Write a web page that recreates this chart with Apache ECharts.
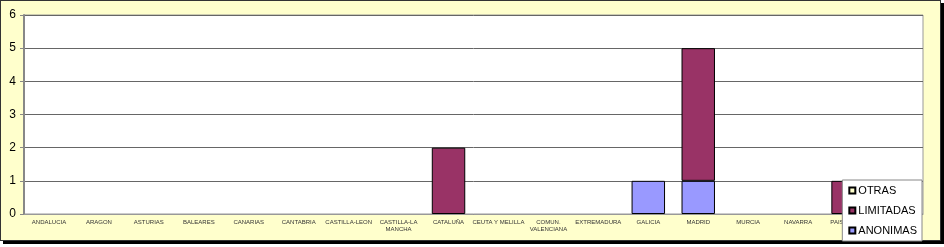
<!DOCTYPE html>
<html><head><meta charset="utf-8">
<script src="https://cdn.jsdelivr.net/npm/echarts@6/dist/echarts.min.js"></script>
<style>
html,body{margin:0;padding:0;background:#fff;}
#frame{position:absolute;left:0;top:0;width:939px;height:239px;background:#FFFFCC;border:1px solid #333;box-shadow:3px 3px 0 #000;}
#c{position:absolute;left:0;top:0;width:944px;height:247px;}
</style></head>
<body>
<div id="frame"></div>
<div id="c"></div>
<script>
var categories = ['ANDALUCIA','ARAGON','ASTURIAS','BALEARES','CANARIAS','CANTABRIA','CASTILLA-LEON','CASTILLA-LA\nMANCHA','CATALUÑA','CEUTA Y MELILLA','COMUN.\nVALENCIANA','EXTREMADURA','GALICIA','MADRID','MURCIA','NAVARRA','PAIS VASCO','LA RIOJA'];
var anonimas  = [0,0,0,0,0,0,0,0,0,0,0,0,1,1,0,0,0,0];
var limitadas = [0,0,0,0,0,0,0,0,2,0,0,0,0,4,0,0,1,0];
var otras     = [0,0,0,0,0,0,0,0,0,0,0,0,0,0,0,0,0,0];
var yTicks = [0,1,2,3,4,5,6];

function nz(a){return a.map(function(v){return v===0?null:v;});}
var chart = echarts.init(document.getElementById('c'), null, {renderer:'canvas'});
chart.setOption({
  animation:false,
  backgroundColor:'transparent',
  grid:{left:24,top:15,right:21,bottom:33,show:true,backgroundColor:'#fff',borderColor:'#999',borderWidth:1},
  legend:{
    orient:'vertical', right:22, bottom:6,
    backgroundColor:'#fff', borderColor:'#888', borderWidth:1,
    padding:[5,5,5,6], itemGap:9, itemWidth:6, itemHeight:6,
    icon:'rect',
    textStyle:{fontFamily:'Liberation Sans, Arial', fontSize:11, color:'#000', padding:[0,0,0,-2]},
    data:['OTRAS','LIMITADAS','ANONIMAS']
  },
  xAxis:{
    type:'category', data:categories,
    axisLine:{lineStyle:{color:'#999',width:1}},
    axisTick:{show:false},
    axisLabel:{interval:0, fontSize:6, color:'#333', fontFamily:'Liberation Sans, Arial', margin:5, lineHeight:7}
  },
  yAxis:{
    type:'value', min:yTicks[0], max:yTicks[yTicks.length-1], interval:1,
    axisLine:{show:true, lineStyle:{color:'#888',width:2}},
    axisTick:{show:true, length:4, lineStyle:{color:'#888'}},
    axisLabel:{fontSize:12, color:'#000', fontFamily:'Liberation Sans, Arial', margin:8},
    splitLine:{lineStyle:{color:'#666',width:1}}
  },
  series:[
    {name:'ANONIMAS', type:'bar', stack:'s', data:nz(anonimas), barCategoryGap:'33%',
     itemStyle:{color:'#9999FF',borderColor:'#000',borderWidth:1}},
    {name:'LIMITADAS', type:'bar', stack:'s', data:nz(limitadas),
     itemStyle:{color:'#993366',borderColor:'#000',borderWidth:1}},
    {name:'OTRAS', type:'bar', stack:'s', data:nz(otras),
     itemStyle:{color:'#FFFFCC',borderColor:'#000',borderWidth:1}}
  ]
});
</script>
</body></html>
